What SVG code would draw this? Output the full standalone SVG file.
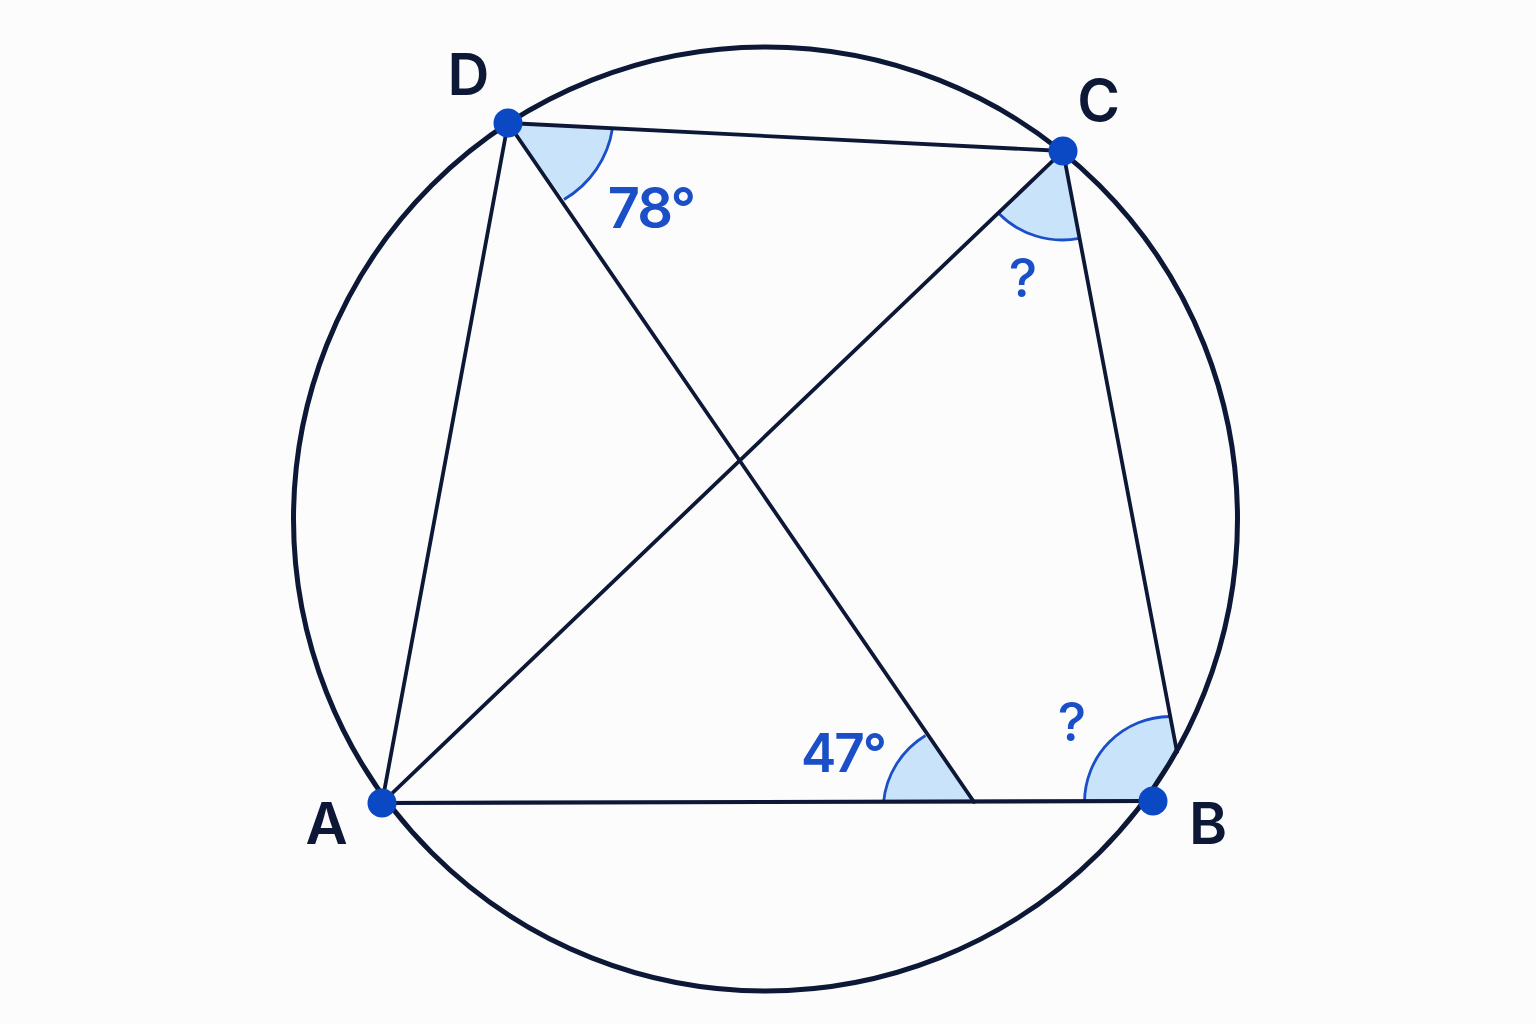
<svg xmlns="http://www.w3.org/2000/svg" width="1536" height="1024" viewBox="0 0 1536 1024">
  <style>
    .bg { fill: #fcfcfd; }
    .circ { fill: none; stroke: #0c1836; stroke-width: 5; }
    .seg { fill: none; stroke: #0c1836; stroke-width: 3.8; stroke-linecap: round; }
    .angfill { fill: #c9e3fb; stroke: none; }
    .angarc { fill: none; stroke: #1a4fc8; stroke-width: 2.8; }
    .dot { fill: #0a48c4; }
    .lbl { font-family: Inter, "Liberation Sans", sans-serif; font-weight: 600; font-size: 58px; fill: #0c1836; text-anchor: middle; }
    .val { font-family: Inter, "Liberation Sans", sans-serif; font-weight: 600; font-size: 56px; fill: #1a4fc8; text-anchor: middle; letter-spacing: -2px; }
    .q { font-family: Inter, "Liberation Sans", sans-serif; font-weight: 500; font-size: 54px; fill: #1a4fc8; text-anchor: middle; }
  </style>
  <rect class="bg" x="0" y="0" width="1536" height="1024"/>

  <g id="angles">
    <g id="angle-D">
      <path class="angfill" d="M508,123 L612.5,128.3 A100,100 0 0 1 564,199.5 Z"/>
      <path class="angarc" d="M612.5,128.3 A100,100 0 0 1 564,199.5"/>
    </g>
    <g id="angle-C">
      <path class="angfill" d="M1063,151 L998.8,213.5 A89,89 0 0 0 1079.3,238.3 Z"/>
      <path class="angarc" d="M998.8,213.5 A89,89 0 0 0 1079.3,238.3"/>
    </g>
    <g id="angle-E">
      <path class="angfill" d="M974,802 L883.5,802.5 A88,88 0 0 1 925.5,735.5 Z"/>
      <path class="angarc" d="M883.5,802.5 A88,88 0 0 1 925.5,735.5"/>
    </g>
    <g id="angle-B">
      <path class="angfill" d="M1084.5,802 A86,86 0 0 1 1169.5,716.5 L1177,752 A472,472 0 0 1 1143,803 Z"/>
      <path class="angarc" d="M1084.5,802 A86,86 0 0 1 1169.5,716.5"/>
    </g>
  </g>

  <g id="circle">
    <circle class="circ" cx="765.5" cy="519" r="472"/>
  </g>

  <g id="connectors">
    <line class="seg" x1="508" y1="123" x2="1063" y2="151"/>
    <line class="seg" x1="508" y1="123" x2="382" y2="803"/>
    <line class="seg" x1="508" y1="123" x2="974" y2="802"/>
    <line class="seg" x1="382" y1="803" x2="1063" y2="151"/>
    <line class="seg" x1="1063" y1="151" x2="1177" y2="752"/>
    <line class="seg" x1="382" y1="803" x2="1153" y2="801" style="stroke-width:4.2"/>
  </g>

  <g id="node-D">
    <circle class="dot" cx="508" cy="123" r="14.5"/>
    <text class="lbl" x="468.5" y="95">D</text>
  </g>
  <g id="node-C">
    <circle class="dot" cx="1063" cy="151" r="14.5"/>
    <text class="lbl" x="1098.5" y="121">C</text>
  </g>
  <g id="node-A">
    <circle class="dot" cx="382" cy="803" r="14.5"/>
    <text class="lbl" x="326.5" y="844">A</text>
  </g>
  <g id="node-B">
    <circle class="dot" cx="1153" cy="801" r="14.5"/>
    <text class="lbl" x="1208" y="844">B</text>
  </g>

  <g id="labels">
    <text class="val" x="651" y="228">78°</text>
    <text class="val" x="843" y="772" style="font-size:53px">47°</text>
    <text class="q" x="1023" y="297">?</text>
    <text class="q" x="1072" y="741">?</text>
  </g>
</svg>
